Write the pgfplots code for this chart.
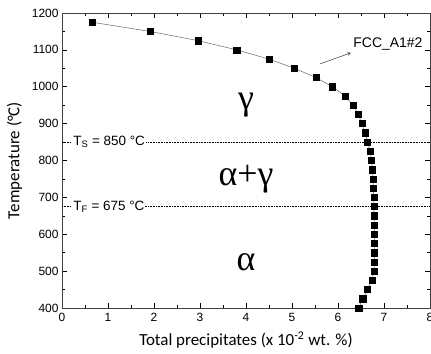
\documentclass[border=0pt]{standalone}
\usepackage{fontspec}
\setmainfont{Liberation Sans}
\newfontfamily\labelfont{Carlito}
\newfontfamily\phasefont{Liberation Serif}
\usepackage{pgfplots}
\pgfplotsset{compat=1.18}

% Equilibrium amount of FCC_A1#2 precipitates versus temperature
\begin{document}
\begin{tikzpicture}
\path[use as bounding box] (0,0) rectangle (431bp,354bp);
\begin{axis}[
  at={(62bp,46bp)}, anchor=south west,
  scale only axis, width=368bp, height=295bp,
  xmin=0, xmax=8, ymin=400, ymax=1200,
  xtick={0,...,8}, ytick={400,500,...,1200},
  minor x tick num=1, minor y tick num=1,
  tick align=inside,
  major tick length=5bp, minor tick length=3bp,
  tick style={black, line width=0.6pt},
  axis line style={black!75, line width=0.8pt},
  tick label style={font=\fontsize{12}{13}\selectfont},
  xticklabel style={yshift=-2bp},
  /pgf/number format/assume math mode=true,
  /pgf/number format/1000 sep={},
  xlabel={\labelfont\fontsize{17}{19}\selectfont Total precipitates (x 10\textsuperscript{-2} wt. \%)},
  ylabel={\labelfont\fontsize{17}{19}\selectfont Temperature (°C)},
  xlabel style={yshift=-3bp},
  ylabel style={yshift=3bp},
  clip=false,
]
% phase boundaries
\addplot[densely dotted, black, line width=0.6pt] coordinates {(0,850) (8,850)};
\addplot[densely dotted, black, line width=0.6pt] coordinates {(0,675) (8,675)};

% total precipitates
\addplot[black!60, line width=0.5pt, mark=square*, mark size=3.1bp,
  mark options={black, fill=black, solid}] table {
x T
0.65 1175
1.91 1150
2.96 1125
3.80 1100
4.50 1075
5.05 1050
5.52 1025
5.88 1000
6.15 975
6.33 950
6.44 925
6.52 900
6.59 875
6.64 850
6.70 825
6.73 800
6.75 775
6.76 750
6.77 725
6.78 700
6.78 675
6.78 650
6.79 625
6.79 600
6.79 575
6.79 550
6.79 525
6.78 500
6.74 475
6.64 450
6.54 425
6.45 400
};

\node[fill=white, inner sep=1pt, anchor=west, font=\fontsize{13.5}{14}\selectfont]
  at (axis cs:0.22,850) {T\textsubscript{S} = 850 °C};
\node[fill=white, inner sep=1pt, anchor=west, font=\fontsize{13.5}{14}\selectfont]
  at (axis cs:0.22,675) {T\textsubscript{F} = 675 °C};

\node[font=\phasefont\fontsize{36}{36}\selectfont] at (axis cs:4.0,950) {γ};
\node[font=\phasefont\fontsize{36}{36}\selectfont] at (axis cs:4.0,748) {α+γ};
\node[font=\phasefont\fontsize{36}{36}\selectfont] at (axis cs:4.0,525) {α};

\draw[-stealth, black!80, line width=0.5pt] (axis cs:5.61,1062) -- (axis cs:6.28,1092);
\node[anchor=west, inner sep=1pt, font=\fontsize{14}{15}\selectfont]
  at (axis cs:6.31,1116) {FCC\_A1\#2};
\end{axis}
\end{tikzpicture}
\end{document}
